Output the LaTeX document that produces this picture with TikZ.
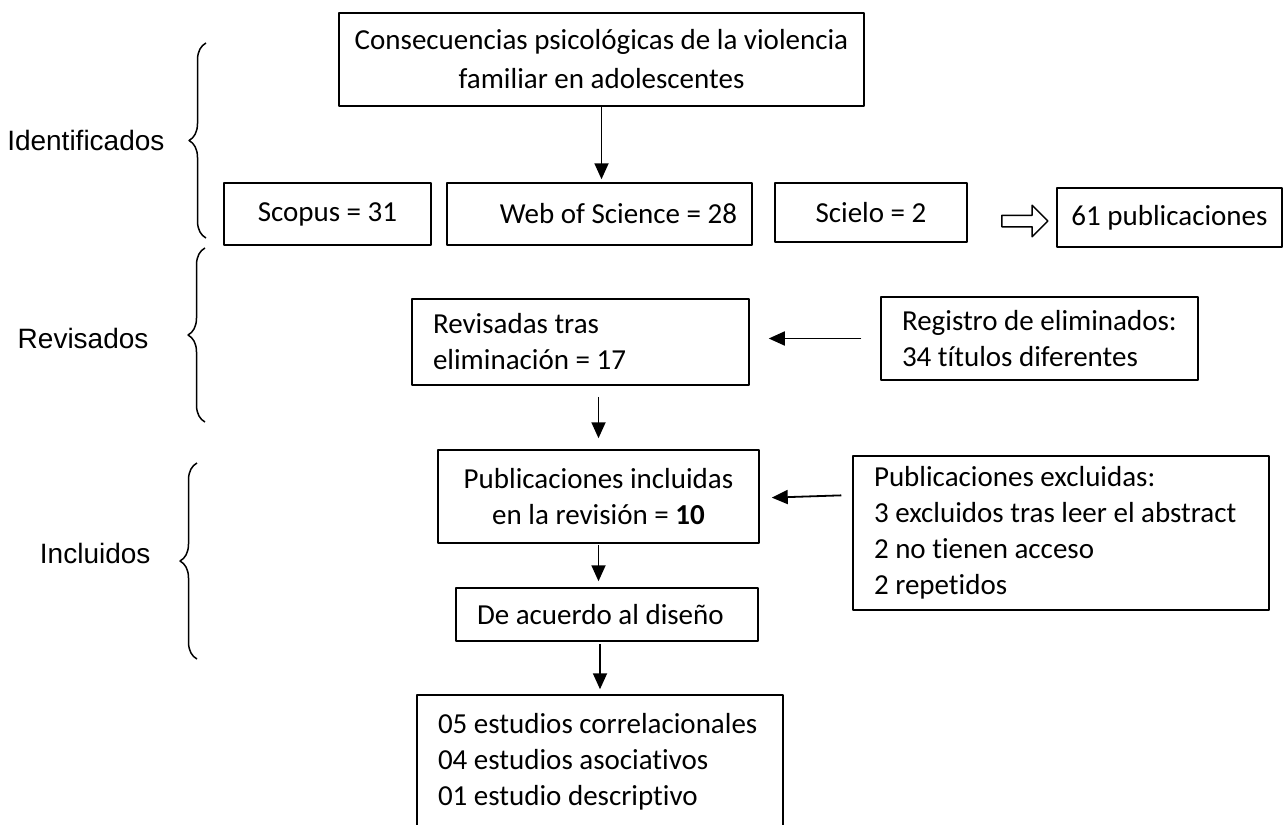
\documentclass[tikz,border=0pt]{standalone}
\usepackage{fontspec}
\setmainfont{Carlito}[Ligatures=NoCommon]
\newfontfamily\arial{Liberation Sans}
\usetikzlibrary{arrows.meta,decorations.pathreplacing,shapes.arrows}
\begin{document}
\begin{tikzpicture}[x=1pt, y=-1pt, line join=round,
    font=\fontsize{29pt}{36pt}\selectfont,
    caja/.style={draw, line width=1.5pt, rectangle, inner sep=0pt},
    cajaizq/.style={caja, align=flush left, text width=#1, execute at begin node={\leftskip=21pt\relax}},
    flecha/.style={-{Triangle[length=16pt,width=14pt]}, line width=1.8pt},
    llave/.style={decorate, decoration={brace, amplitude=17pt}, line width=1.5pt},
    etapa/.style={font=\arial\fontsize{28pt}{34pt}\selectfont, anchor=east}]
    \useasboundingbox (0,0) rectangle (1284,824);
    % etapas
    \draw[llave] (206,238) -- (206,43);
    \draw[llave] (205,422) -- (205,248);
    \draw[llave] (197,659) -- (197,463);
    \node[etapa] (identificados) at (168,140) {Identificados};
    \node[etapa] (revisados) at (152,338) {Revisados};
    \node[etapa] (incluidos) at (154,553) {Incluidos};
    % identificacion
    \node[caja, align=center, minimum width=525pt, minimum height=93pt] (tema) at (601.5,59.5)
        {Consecuencias psicológicas de la violencia\\[3pt]familiar en adolescentes};
    \node[caja, minimum width=207pt, minimum height=62pt] (scopus) at (327.5,214) {Scopus = 31};
    \node[caja, minimum width=305pt, minimum height=62pt] (wos) at (599.5,214) {\hspace*{38pt}Web of Science = 28};
    \node[caja, minimum width=192pt, minimum height=59pt] (scielo) at (871,212.5) {Scielo = 2};
    \node[caja, minimum width=225pt, minimum height=59pt] (total) at (1169.5,217.5) {61 publicaciones};
    \node[single arrow, draw, line width=1.5pt, inner sep=5pt, minimum height=46pt,
        single arrow head extend=10pt] (suma) at (1022,221) {};
    % revision
    \node[cajaizq=337pt, minimum height=86pt] (revisadas) at (580.5,342)
        {Revisadas tras\\eliminación = 17};
    \node[cajaizq=317pt, minimum height=83pt] (registro) at (1039.5,338.5)
        {Registro de eliminados:\\34 títulos diferentes};
    % inclusion
    \node[caja, align=center, minimum width=321pt, minimum height=93pt] (incluidas) at (598.5,496.5)
        {Publicaciones incluidas\\en la revisión = \textbf{10}};
    \node[cajaizq=416pt, minimum height=154pt] (excluidas) at (1061,533)
        {Publicaciones excluidas:\\3 excluidos tras leer el abstract\\2 no tienen acceso\\2 repetidos};
    \node[cajaizq=302pt, minimum height=53pt] (diseno) at (607,614.5) {De acuerdo al diseño};
    \node[cajaizq=366pt, minimum height=134pt] (estudios) at (600,762)
        {05 estudios correlacionales\\04 estudios asociativos\\01 estudio descriptivo};
    % conectores
    \draw[flecha, shorten >=3pt] (tema.south) -- (tema.south |- wos.north);
    \draw[flecha, shorten <=19pt, shorten >=19pt] (registro.west) -- (registro.west -| revisadas.east);
    \draw[flecha, shorten <=11pt, shorten >=11pt] (incluidas.north |- revisadas.south) -- (incluidas.north);
    \draw[flecha, shorten <=11pt, shorten >=12pt] ([yshift=38pt]excluidas.west) -- ([yshift=-1.5pt]incluidas.east);
    \draw[flecha, shorten <=1pt, shorten >=6pt] (incluidas.south) -- (incluidas.south |- diseno.north);
    \draw[flecha, shorten <=2pt, shorten >=5pt] (estudios.north |- diseno.south) -- (estudios.north);
\end{tikzpicture}
\end{document}
